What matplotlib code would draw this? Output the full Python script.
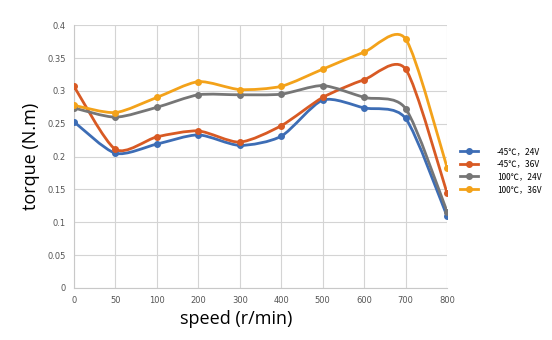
import numpy as np
import matplotlib
matplotlib.use("Agg")
import matplotlib.pyplot as plt
from matplotlib.path import Path
from matplotlib.patches import PathPatch
from matplotlib.lines import Line2D

# speed categories (equally spaced on the axis)
speeds = ['0', '50', '100', '200', '300', '400', '500', '600', '700', '800']

# torque values
t_m45_24 = [0.253, 0.205, 0.219, 0.233, 0.217, 0.231, 0.286, 0.274, 0.258, 0.109]
t_m45_36 = [0.307, 0.211, 0.230, 0.239, 0.222, 0.247, 0.290, 0.317, 0.333, 0.144]
t_100_24 = [0.274, 0.260, 0.275, 0.294, 0.294, 0.295, 0.308, 0.290, 0.273, 0.116]
t_100_36 = [0.278, 0.267, 0.290, 0.314, 0.302, 0.307, 0.333, 0.359, 0.379, 0.183]

labels = ['-45℃，24V', '-45℃，36V', '100℃，24V', '100℃，36V']
colors = ['#3D6DB5', '#D85A24', '#767676', '#F3A21A']
series = [t_m45_24, t_m45_36, t_100_24, t_100_36]

fig = plt.figure(figsize=(5.52, 3.4), dpi=100)
ax = fig.add_axes([0.134, 0.153, 0.676, 0.773])

x = np.arange(len(speeds))


def smooth_path(xs, ys, k=1 / 8):
    # smoothed line: cubic bezier through the points
    verts = [(xs[0], ys[0])]
    codes = [Path.MOVETO]
    n = len(xs)
    for i in range(n - 1):
        p0 = (xs[max(i - 1, 0)], ys[max(i - 1, 0)])
        p1 = (xs[i], ys[i])
        p2 = (xs[i + 1], ys[i + 1])
        p3 = (xs[min(i + 2, n - 1)], ys[min(i + 2, n - 1)])
        c1 = (p1[0] + (p2[0] - p0[0]) * k, p1[1] + (p2[1] - p0[1]) * k)
        c2 = (p2[0] - (p3[0] - p1[0]) * k, p2[1] - (p3[1] - p1[1]) * k)
        verts += [c1, c2, p2]
        codes += [Path.CURVE4] * 3
    return Path(verts, codes)


for ys, c in zip(series, colors):
    ax.add_patch(PathPatch(smooth_path(x, ys), facecolor='none', edgecolor=c,
                           lw=2.0, zorder=3, capstyle='round'))
    ax.plot(x, ys, 'o', color=c, ms=4, zorder=4)

ax.set_xlim(0, len(speeds) - 1)
ax.set_ylim(0, 0.4)
ax.set_xticks(x)
ax.set_xticklabels(speeds)
ax.set_yticks(np.arange(0, 0.41, 0.05))
ax.set_yticklabels(['0', '0.05', '0.1', '0.15', '0.2', '0.25', '0.3', '0.35', '0.4'])
ax.tick_params(labelsize=6, colors='#555555', length=0, pad=6)
ax.grid(True, color='#d4d4d4', lw=0.8)
ax.set_axisbelow(True)
for s in ['top', 'right']:
    ax.spines[s].set_visible(False)
for s in ['left', 'bottom']:
    ax.spines[s].set_color('#c8c8c8')

ax.set_xlabel('speed (r/min)', fontsize=13, family='Open Sans')
ax.xaxis.set_label_coords(0.435, -0.085)
ax.set_ylabel('torque (N.m)', fontsize=13, family='Open Sans')
ax.yaxis.set_label_coords(-0.09, 0.5)

handles = [Line2D([], [], color=c, lw=2, marker='o', ms=4) for c in colors]
fig.legend(handles, labels, loc='upper left', bbox_to_anchor=(0.82, 0.59),
           frameon=False, handlelength=2.2, handletextpad=2.2,
           labelspacing=0.45, prop={'family': ['Noto Sans CJK SC', 'DejaVu Sans'], 'size': 6})

fig.savefig('out.png', dpi=100)
